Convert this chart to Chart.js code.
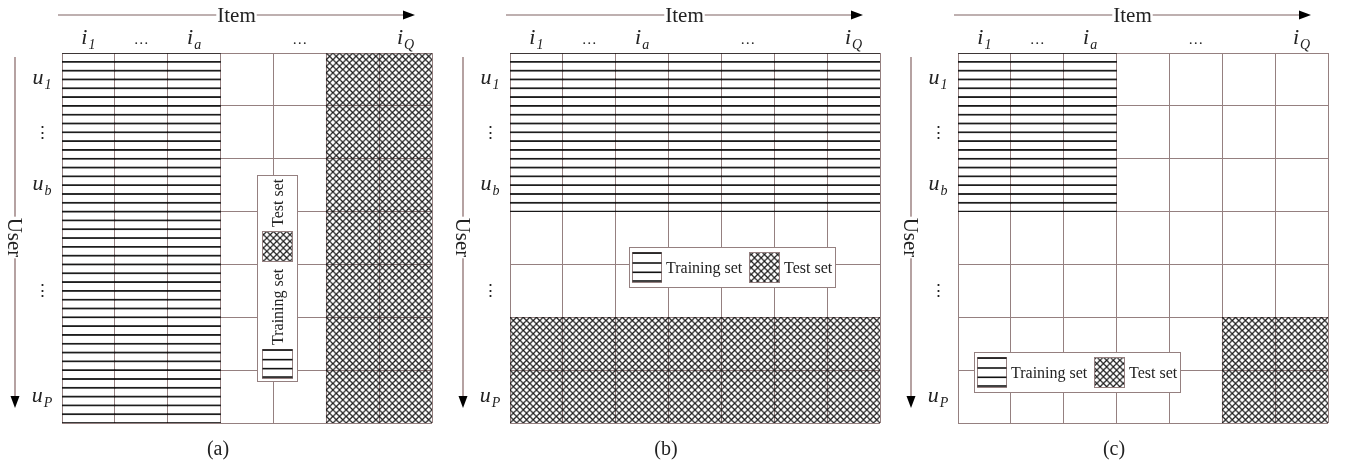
<!DOCTYPE html>
<html>
<head>
<meta charset="utf-8">
<script src="https://cdn.jsdelivr.net/npm/chart.js@4"></script>
<style>
  body { margin: 0; background: #fff; width: 1345px; height: 465px; overflow: hidden; position: relative; }
  .panel { position: absolute; top: 0; width: 448px; height: 465px; }
</style>
</head>
<body>
<div class="panel" style="left:0px"><canvas id="chartA" width="448" height="465"></canvas></div>
<div class="panel" style="left:448px"><canvas id="chartB" width="448" height="465"></canvas></div>
<div class="panel" style="left:896px"><canvas id="chartC" width="448" height="465"></canvas></div>
<script>
// item / user labels ("_" marks a subscript)
const colLabels = ['i_1', '…', 'i_a', '', '…', '', 'i_Q'];
const rowLabels = ['u_1', '⋮', 'u_b', '', '⋮', '', 'u_P'];
const captions = ['(a)', '(b)', '(c)'];
const legendNames = ['Training set', 'Test set'];

// blocks of cells for each panel: [first, last+1] in columns and rows
const trainCols = [[0, 3], [0, 7], [0, 3]];
const trainRows = [[0, 7], [0, 3], [0, 3]];
const testCols = [[5, 7], [0, 7], [5, 7]];
const testRows = [[0, 7], [5, 7], [5, 7]];

// where the legend box sits (column index, row value), and whether it stands upright
const legendAt = [[3.58, 4.27], [3.71, 4.05], [1.76, 6.04]];
const legendUpright = [true, false, false];

const GRID = '#958080';
const SERIF = "'Liberation Serif', 'Times New Roman', serif";

function trainTile() {
  const c = document.createElement('canvas');
  c.width = 12; c.height = 60;
  const g = c.getContext('2d');
  g.strokeStyle = '#111';
  g.lineWidth = 1.9;
  for (let k = 0; k <= 6; k++) {
    g.beginPath(); g.moveTo(0, k * 10); g.lineTo(12, k * 10); g.stroke();
  }
  return c;
}

function testTile() {
  const c = document.createElement('canvas');
  c.width = 64; c.height = 64;
  const g = c.getContext('2d');
  g.strokeStyle = '#1a1a1a';
  g.lineWidth = 1.5;
  for (let k = -8; k <= 16; k++) {
    g.beginPath(); g.moveTo(k * 8, 0); g.lineTo(k * 8 + 64, 64); g.stroke();
    g.beginPath(); g.moveTo(k * 8, 0); g.lineTo(k * 8 - 64, 64); g.stroke();
  }
  return c;
}

function blockData(cols, rows) {
  return colLabels.map((_, i) => (i >= cols[0] && i < cols[1]) ? [rows[0], rows[1]] : null);
}

function splitLabel(s) {
  const p = s.split('_');
  return { main: p[0], sub: p[1] || '' };
}

function drawIndexed(ctx, label, cx, cy) {
  if (!label) return;
  ctx.fillStyle = '#222';
  if (label === '…') {
    ctx.font = '15px ' + SERIF;
    ctx.textAlign = 'center'; ctx.textBaseline = 'alphabetic';
    ctx.fillText(label, cx, cy);
    return;
  }
  if (label === '⋮') {
    ctx.font = '17px ' + SERIF;
    ctx.textAlign = 'center'; ctx.textBaseline = 'middle';
    ctx.fillText(label, cx, cy - 4);
    return;
  }
  const { main, sub } = splitLabel(label);
  const mainFont = 'italic 22px ' + SERIF;
  const subFont = 'italic 14px ' + SERIF;
  ctx.font = mainFont;
  const w1 = ctx.measureText(main).width;
  ctx.font = subFont;
  const w2 = sub ? ctx.measureText(sub).width + 1 : 0;
  const x0 = cx - (w1 + w2) / 2;
  ctx.textAlign = 'left'; ctx.textBaseline = 'alphabetic';
  ctx.font = mainFont;
  ctx.fillText(main, x0, cy);
  if (sub) {
    ctx.font = subFont;
    ctx.fillText(sub, x0 + w1 + 1, cy + 5);
  }
}

function arrowHead(ctx, x, y, dir) {
  // dir: 'right' or 'down', tip at (x, y)
  ctx.fillStyle = '#000';
  ctx.beginPath();
  if (dir === 'right') {
    ctx.moveTo(x, y); ctx.lineTo(x - 12, y - 4.5); ctx.lineTo(x - 12, y + 4.5);
  } else {
    ctx.moveTo(x, y); ctx.lineTo(x - 4.5, y - 12); ctx.lineTo(x + 4.5, y - 12);
  }
  ctx.closePath();
  ctx.fill();
}

// map a local rectangle to an upright screen rectangle (swatches never rotate)
function screenRect(ctx, x, y, w, h) {
  const m = ctx.getTransform();
  const p1 = m.transformPoint(new DOMPoint(x, y));
  const p2 = m.transformPoint(new DOMPoint(x + w, y + h));
  return {
    x: Math.round(Math.min(p1.x, p2.x)), y: Math.round(Math.min(p1.y, p2.y)),
    w: Math.round(Math.abs(p2.x - p1.x)), h: Math.round(Math.abs(p2.y - p1.y))
  };
}

function drawLegend(ctx, pats) {
  // local box 207 x 41, origin top-left
  ctx.fillStyle = '#fff';
  ctx.fillRect(0, 0, 207, 41);
  ctx.strokeStyle = GRID; ctx.lineWidth = 1;
  ctx.strokeRect(0.5, 0.5, 206, 40);
  ctx.fillStyle = '#222';
  ctx.font = '16px ' + SERIF;
  ctx.textAlign = 'left'; ctx.textBaseline = 'middle';
  ctx.fillText(legendNames[0], 37, 21.5);
  ctx.fillText(legendNames[1], 155, 21.5);

  const r1 = screenRect(ctx, 3, 5, 30, 31);
  const r2 = screenRect(ctx, 120, 5, 31, 31);
  ctx.save();
  ctx.setTransform(1, 0, 0, 1, 0, 0);
  // training swatch
  ctx.strokeStyle = GRID; ctx.lineWidth = 1;
  ctx.strokeRect(r1.x + 0.5, r1.y + 0.5, r1.w - 1, r1.h - 1);
  ctx.strokeStyle = '#111'; ctx.lineWidth = 1.6;
  [0.02, 0.35, 0.66, 0.95].forEach(t => {
    const y = r1.y + 0.5 + t * (r1.h - 1);
    ctx.beginPath(); ctx.moveTo(r1.x + 0.5, y); ctx.lineTo(r1.x + r1.w - 0.5, y); ctx.stroke();
  });
  // test swatch
  ctx.fillStyle = pats.test;
  ctx.fillRect(r2.x, r2.y, r2.w, r2.h);
  ctx.strokeStyle = GRID; ctx.lineWidth = 1;
  ctx.strokeRect(r2.x + 0.5, r2.y + 0.5, r2.w - 1, r2.h - 1);
  ctx.restore();
}

function makePanel(id, p) {
  const pats = {
    train: document.createElement('canvas').getContext('2d').createPattern(trainTile(), 'repeat'),
    test: document.createElement('canvas').getContext('2d').createPattern(testTile(), 'repeat')
  };

  const decor = {
    id: 'decor',
    afterLayout(chart) {
      const a = chart.chartArea;
      const cell = (a.bottom - a.top) / 7;
      pats.train.setTransform(new DOMMatrix().translate(a.left, a.top).scale(1, cell / 60));
      pats.test.setTransform(new DOMMatrix().translate(a.left, a.top).scale(cell / 64, cell / 64));
    },
    afterDraw(chart) {
      const ctx = chart.ctx;
      const a = chart.chartArea;
      const xs = chart.scales.x, ys = chart.scales.y;
      ctx.save();

      // Item arrow
      const ay = a.top - 38;
      const ax0 = a.left - 4, ax1 = a.left + 353;
      ctx.strokeStyle = '#a89696'; ctx.lineWidth = 1.5;
      ctx.beginPath(); ctx.moveTo(ax0, ay); ctx.lineTo(ax1 - 6, ay); ctx.stroke();
      arrowHead(ctx, ax1, ay, 'right');
      ctx.font = '21px ' + SERIF;
      const iw = ctx.measureText('Item').width;
      const icx = (ax0 + ax1) / 2;
      ctx.fillStyle = '#fff';
      ctx.fillRect(icx - iw / 2 - 1, ay - 8, iw + 2, 16);
      ctx.fillStyle = '#222';
      ctx.textAlign = 'center'; ctx.textBaseline = 'middle';
      ctx.fillText('Item', icx, ay + 1);

      // User arrow
      const ux = a.left - 47;
      const uy0 = a.top + 4, uy1 = a.top + 355;
      ctx.strokeStyle = '#8e7070'; ctx.lineWidth = 1.3;
      ctx.beginPath(); ctx.moveTo(ux, uy0); ctx.lineTo(ux, uy1 - 6); ctx.stroke();
      arrowHead(ctx, ux, uy1, 'down');
      ctx.translate(ux, (uy0 + uy1) / 2 + 5);
      ctx.rotate(Math.PI / 2);
      ctx.font = '21px ' + SERIF;
      const uw = ctx.measureText('User').width;
      ctx.fillStyle = '#fff';
      ctx.fillRect(-uw / 2 - 1, -8, uw + 2, 16);
      ctx.fillStyle = '#222';
      ctx.textAlign = 'center'; ctx.textBaseline = 'middle';
      ctx.fillText('User', 0, 1);
      ctx.setTransform(1, 0, 0, 1, 0, 0);

      // column and row labels
      colLabels.forEach((l, i) => drawIndexed(ctx, l, xs.getPixelForValue(i), a.top - 9));
      rowLabels.forEach((l, i) => drawIndexed(ctx, l, a.left - 20, ys.getPixelForValue(i + 0.5) + 5));

      // legend
      const lx = xs.getPixelForValue(legendAt[p][0]);
      const ly = ys.getPixelForValue(legendAt[p][1]);
      if (legendUpright[p]) {
        ctx.translate(Math.round(lx - 20.5), Math.round(ly + 103.5));
        ctx.rotate(-Math.PI / 2);
      } else {
        ctx.translate(Math.round(lx - 103.5), Math.round(ly - 20.5));
      }
      drawLegend(ctx, pats);
      ctx.setTransform(1, 0, 0, 1, 0, 0);

      // caption
      ctx.fillStyle = '#222';
      ctx.font = '20px ' + SERIF;
      ctx.textAlign = 'center'; ctx.textBaseline = 'middle';
      ctx.fillText(captions[p], a.left + 156, a.bottom + 27);
      ctx.restore();
    }
  };

  return new Chart(document.getElementById(id), {
    type: 'bar',
    data: {
      labels: colLabels,
      datasets: [
        {
          label: legendNames[0],
          data: blockData(trainCols[p], trainRows[p]),
          backgroundColor: pats.train,
          borderWidth: 0,
          grouped: false,
          barPercentage: 1,
          categoryPercentage: 1
        },
        {
          label: legendNames[1],
          data: blockData(testCols[p], testRows[p]),
          backgroundColor: pats.test,
          borderWidth: 0,
          grouped: false,
          barPercentage: 1,
          categoryPercentage: 1
        }
      ]
    },
    options: {
      responsive: false,
      devicePixelRatio: 1,
      animation: false,
      events: [],
      layout: { padding: { left: 62, right: 16, top: 53, bottom: 42 } },
      plugins: { legend: { display: false }, tooltip: { enabled: false } },
      scales: {
        x: {
          position: 'top',
          offset: true,
          ticks: { display: false },
          grid: { color: GRID, lineWidth: 1, drawTicks: false, offset: true },
          border: { display: false }
        },
        y: {
          min: 0,
          max: 7,
          reverse: true,
          ticks: { display: false, stepSize: 1 },
          grid: { color: GRID, lineWidth: 1, drawTicks: false },
          border: { display: false }
        }
      }
    },
    plugins: [decor]
  });
}

makePanel('chartA', 0);
makePanel('chartB', 1);
makePanel('chartC', 2);
</script>
</body>
</html>
